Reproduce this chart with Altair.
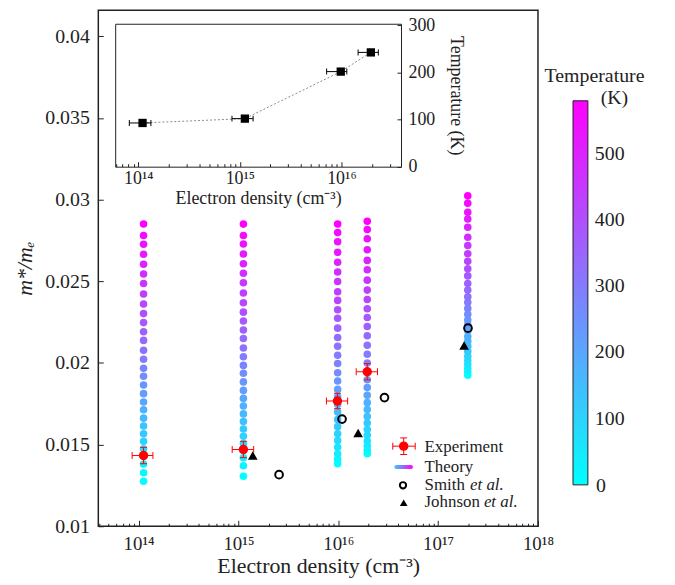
import altair as alt
import pandas as pd

# ---------------- data ----------------
TEMPERATURES = [0, 20, 40, 60, 80, 100, 120, 140, 160, 180, 200, 220, 240, 260, 280,
                300, 320, 340, 360, 380, 400, 420, 440, 460, 480, 500, 520, 540, 560, 580]
THEORY_DENSITY = [1.12e14, 1.12e15, 0.985e16, 1.95e16, 1.98e17]
THEORY_M_1 = [0.01275, 0.01328, 0.01381, 0.01427, 0.01474, 0.01520, 0.01567, 0.01614, 0.01662, 0.01713,
              0.01761, 0.01812, 0.01865, 0.01919, 0.01968, 0.02023, 0.02077, 0.02138, 0.02191, 0.02247,
              0.02302, 0.02361, 0.02422, 0.02486, 0.02545, 0.02604, 0.02665, 0.02727, 0.02780, 0.02851]
THEORY_M_2 = [0.01306, 0.01370, 0.01420, 0.01463, 0.01507, 0.01551, 0.01596, 0.01641, 0.01688, 0.01736,
              0.01783, 0.01832, 0.01884, 0.01937, 0.01985, 0.02038, 0.02091, 0.02150, 0.02202, 0.02257,
              0.02311, 0.02369, 0.02428, 0.02491, 0.02549, 0.02607, 0.02667, 0.02728, 0.02780, 0.02850]
THEORY_M_3 = [0.01383, 0.01411, 0.01444, 0.01484, 0.01525, 0.01567, 0.01610, 0.01654, 0.01699, 0.01745,
              0.01792, 0.01838, 0.01889, 0.01940, 0.01996, 0.02047, 0.02102, 0.02156, 0.02213, 0.02274,
              0.02326, 0.02383, 0.02436, 0.02499, 0.02557, 0.02616, 0.02677, 0.02742, 0.02798, 0.02851]
THEORY_M_4 = [0.01444, 0.01466, 0.01492, 0.01522, 0.01557, 0.01593, 0.01632, 0.01672, 0.01715, 0.01757,
              0.01802, 0.01849, 0.01897, 0.01948, 0.02000, 0.02053, 0.02108, 0.02167, 0.02223, 0.02278,
              0.02332, 0.02389, 0.02446, 0.02507, 0.02571, 0.02628, 0.02693, 0.02760, 0.02817, 0.02867]
THEORY_M_5 = [0.01925, 0.01946, 0.01966, 0.01990, 0.02015, 0.02041, 0.02071, 0.02102, 0.02132, 0.02162,
              0.02197, 0.02233, 0.02263, 0.02298, 0.02334, 0.02371, 0.02405, 0.02446, 0.02486, 0.02533,
              0.02577, 0.02622, 0.02669, 0.02719, 0.02770, 0.02831, 0.02881, 0.02922, 0.02978, 0.03023]
THEORY_COLUMNS = [THEORY_M_1, THEORY_M_2, THEORY_M_3, THEORY_M_4, THEORY_M_5]

EXP_N = [1.12e14, 1.12e15, 0.98e16, 1.95e16]
EXP_N_LO = [0.86e14, 0.865e15, 0.76e16, 1.51e16]
EXP_N_HI = [1.39e14, 1.42e15, 1.24e16, 2.47e16]
EXP_M = [0.01433, 0.01470, 0.01767, 0.01946]
EXP_M_ERR = [0.0005, 0.0005, 0.00047, 0.0005]

SMITH_N = [2.55e15, 1.09e16, 2.9e16, 1.99e17]
SMITH_M = [0.01316, 0.01656, 0.01788, 0.02213]
JOHNSON_N = [1.39e15, 1.58e16, 1.82e17]
JOHNSON_M = [0.01433, 0.01571, 0.02107]

INSET_N = [1.1e14, 1.12e15, 0.985e16, 1.95e16]
INSET_N_LO = [0.815e14, 0.836e15, 0.715e16, 1.46e16]
INSET_N_HI = [1.33e14, 1.35e15, 1.13e16, 2.31e16]
INSET_T = [92.7, 101.9, 201.6, 242.3]

X_MAJOR = [1e14, 1e15, 1e16, 1e17, 1e18]
X_MINOR = [k * 10.0 ** d for d in range(13, 18) for k in range(2, 10) if 4e13 <= k * 10.0 ** d < 1e18]
Y_TICKS = [0.01, 0.015, 0.02, 0.025, 0.03, 0.035, 0.04]
IX_MAJOR = [1e14, 1e15, 1e16]
IX_MINOR = [k * 10.0 ** d for d in range(13, 17) for k in range(2, 10) if 5.9e13 <= k * 10.0 ** d < 3.8e16]
IY_TICKS = [0, 100, 200, 300]
CBAR_TICKS = [100, 200, 300, 400, 500]

# ---------------- tables ----------------
theory_rows = []
for n, col in zip(THEORY_DENSITY, THEORY_COLUMNS):
    for t, m in zip(TEMPERATURES, col):
        theory_rows.append({"n": n, "m": m, "T": t})
theory_df = pd.DataFrame(theory_rows)

exp_df = pd.DataFrame({"n": EXP_N, "lo": EXP_N_LO, "hi": EXP_N_HI, "m": EXP_M,
                       "mlo": [m - e for m, e in zip(EXP_M, EXP_M_ERR)],
                       "mhi": [m + e for m, e in zip(EXP_M, EXP_M_ERR)]})
exp_xcaps = pd.DataFrame({"n": EXP_N_LO + EXP_N_HI, "m": EXP_M + EXP_M})
exp_ycaps = pd.DataFrame({"n": EXP_N + EXP_N, "m": list(exp_df["mlo"]) + list(exp_df["mhi"])})
smith_df = pd.DataFrame({"n": SMITH_N, "m": SMITH_M})
johnson_df = pd.DataFrame({"n": JOHNSON_N, "m": JOHNSON_M})
inset_df = pd.DataFrame({"n": INSET_N, "lo": INSET_N_LO, "hi": INSET_N_HI, "T": INSET_T})
inset_caps = pd.DataFrame({"n": INSET_N_LO + INSET_N_HI, "T": INSET_T + INSET_T})
one = pd.DataFrame({"a": [0]})

# ---------------- geometry / style ----------------
W, H = 443, 520
IL, IR, IT, IB = 17, 305, 13.7, 157.7
FONT = "Liberation Serif"
INK = "#222222"

XS = alt.Scale(type="log", domain=[10 ** 13.596, 1e18], nice=False)
YS = alt.Scale(domain=[0.01, 0.0416], nice=False, zero=False)
IXS = alt.Scale(type="log", domain=[10 ** 13.772, 10 ** 16.587], range=[IL, IR], nice=False)
IYS = alt.Scale(domain=[0, 303], range=[IB, IT], nice=False, zero=False)

SUP = ("'10' + replace(replace(replace(replace(replace(replace("
       "format(log(datum.value)/LN10, '.0f'), '1', '¹'), '4', '⁴'), '5', '⁵'), '6', '⁶'), '7', '⁷'), '8', '⁸')")


def ax(**kw):
    base = dict(grid=False, labelFont=FONT, titleFont=FONT, labelColor=INK, titleColor=INK,
                tickColor=INK, domainColor=INK, titleFontWeight="normal")
    base.update(kw)
    return alt.Axis(**base)


X_LAB = ax(orient="bottom", values=X_MAJOR, labelExpr=SUP, ticks=False, domain=False, labelFontSize=19,
           labelPadding=8, labelOverlap=False, labelFlush=False,
           title="Electron density (cm⁻³)", titleFontSize=22, titlePadding=3)
X_MAJ = ax(orient="top", offset=-H, values=X_MAJOR, labels=False, tickSize=6, domain=False, title=None)
X_MIN = ax(orient="top", offset=-H, values=X_MINOR, labels=False, tickSize=3, domain=False, title=None)
Y_LAB = ax(orient="left", values=Y_TICKS, format="~g", ticks=False, domain=False, labelFontSize=20,
           labelPadding=9, labelOverlap=False, labelFlush=False,
           title="m*/mₑ", titleFontSize=22, titleFontStyle="italic", titlePadding=8)
Y_TCK = ax(orient="right", offset=-W, values=Y_TICKS, labels=False, tickSize=5, domain=False, title=None)

IX_LAB = ax(orient="bottom", offset=-(H - IB), values=IX_MAJOR, labelExpr=SUP, ticks=False, domain=True,
            labelFontSize=18, labelPadding=3, labelFlush=False, labelOverlap=False,
            title="Electron density (cm⁻³)", titleFontSize=18, titlePadding=2)
IX_MAJ = ax(orient="top", offset=-IB, values=IX_MAJOR, labels=False, tickSize=5, domain=False, title=None)
IX_MIN = ax(orient="top", offset=-IB, values=IX_MINOR, labels=False, tickSize=3, domain=False, title=None)
IX_TOP = ax(orient="top", offset=-IT, labels=False, ticks=False, domain=True, title=None)
IY_LAB = ax(orient="right", offset=-(W - IR), values=IY_TICKS, ticks=False, domain=True, labelFontSize=18,
            labelPadding=7, labelFlush=False, labelOverlap=False,
            title="Temperature (K)", titleFontSize=18, titlePadding=12, titleAngle=90)
IY_TCK = ax(orient="left", offset=-IR, values=IY_TICKS, labels=False, tickSize=4, domain=False, title=None)
IY_LEFT = ax(orient="left", offset=-IL, labels=False, ticks=False, domain=True, title=None)


def mx(field, axis=None):
    return alt.X(field, type="quantitative", scale=XS, axis=axis)


def my(field, axis=None):
    return alt.Y(field, type="quantitative", scale=YS, axis=axis)


def ix(field, axis=None):
    return alt.X(field, type="quantitative", scale=IXS, axis=axis)


def iy(field, axis=None):
    return alt.Y(field, type="quantitative", scale=IYS, axis=axis)


RED = "#ff0000"

# ---------------- main layers ----------------
theory = alt.Chart(theory_df).mark_circle(size=58, opacity=1).encode(
    x=mx("n", X_LAB), y=my("m", Y_LAB),
    color=alt.Color("T:Q", scale=alt.Scale(domain=[0, 580], range=["#00ffff", "#ff00ff"], interpolate="rgb"),
                    legend=alt.Legend(title=None, orient="none", legendX=478.3, legendY=91.3,
                                      direction="vertical", gradientLength=387, gradientThickness=15,
                                      gradientStrokeColor=INK, gradientStrokeWidth=1, values=CBAR_TICKS,
                                      labelFont=FONT, labelFontSize=20, labelColor=INK, labelOffset=7,
                                      labelOverlap=False, padding=0)))

smith = alt.Chart(smith_df).mark_point(shape="circle", filled=False, size=60, strokeWidth=2,
                                       color="black", opacity=1).encode(x=mx("n", X_MAJ), y=my("m", Y_TCK))
johnson = alt.Chart(johnson_df).mark_point(shape="triangle-up", filled=True, size=95, color="black",
                                           opacity=1).encode(x=mx("n", X_MIN), y=my("m"))

exp_xbar = alt.Chart(exp_df).mark_rule(color=RED, strokeWidth=1).encode(x=mx("lo"), x2="hi", y=my("m"))
exp_ybar = alt.Chart(exp_df).mark_rule(color=RED, strokeWidth=1).encode(x=mx("n"), y=my("mlo"), y2="mhi")
exp_xcap = alt.Chart(exp_xcaps).mark_tick(orient="vertical", size=7, thickness=1, color=RED, opacity=1).encode(
    x=mx("n"), y=my("m"))
exp_ycap = alt.Chart(exp_ycaps).mark_tick(orient="horizontal", size=7, thickness=1, color=RED, opacity=1).encode(
    x=mx("n"), y=my("m"))
exp_pts = alt.Chart(exp_df).mark_circle(size=90, color=RED, opacity=1).encode(x=mx("n"), y=my("m"))

# ---------------- inset layers ----------------
inset_line = alt.Chart(inset_df).mark_line(color="#888888", strokeWidth=1, strokeDash=[2, 2]).encode(
    x=ix("n", IX_LAB), y=iy("T", IY_LAB))
inset_bar = alt.Chart(inset_df).mark_rule(color="black", strokeWidth=1).encode(
    x=ix("lo", IX_MIN), x2="hi", y=iy("T", IY_LEFT))
inset_cap = alt.Chart(inset_caps).mark_tick(orient="vertical", size=6, thickness=1, color="black",
                                            opacity=1).encode(x=ix("n", IX_TOP), y=iy("T"))
inset_pts = alt.Chart(inset_df).mark_square(size=70, color="black", opacity=1).encode(
    x=ix("n", IX_MAJ), y=iy("T", IY_TCK))

# ---------------- legend (inside plot) ----------------
def txt(s, x, y, size=17, style="normal", align="left"):
    return alt.Chart(one).mark_text(align=align, baseline="alphabetic", font=FONT, fontSize=size,
                                    fontStyle=style, color=INK).encode(
        x=alt.value(x), y=alt.value(y), text=alt.value(s))


leg = [
    alt.Chart(one).mark_rule(color=RED, strokeWidth=1).encode(x=alt.value(296.7), x2=alt.value(319.3), y=alt.value(439.3)),
    alt.Chart(one).mark_rule(color=RED, strokeWidth=1).encode(x=alt.value(307.7), y=alt.value(431), y2=alt.value(447.7)),
    alt.Chart(one).mark_rule(color=RED, strokeWidth=1).encode(x=alt.value(296.7), y=alt.value(435.8), y2=alt.value(442.8)),
    alt.Chart(one).mark_rule(color=RED, strokeWidth=1).encode(x=alt.value(319.3), y=alt.value(435.8), y2=alt.value(442.8)),
    alt.Chart(one).mark_rule(color=RED, strokeWidth=1).encode(x=alt.value(304.2), x2=alt.value(311.2), y=alt.value(431)),
    alt.Chart(one).mark_rule(color=RED, strokeWidth=1).encode(x=alt.value(304.2), x2=alt.value(311.2), y=alt.value(447.7)),
    alt.Chart(one).mark_circle(size=90, color=RED, opacity=1).encode(x=alt.value(307.7), y=alt.value(439.3)),
    alt.Chart(one).mark_rect(cornerRadius=2, fill=alt.LinearGradient(
        gradient="linear", x1=0, x2=1, y1=0, y2=0,
        stops=[alt.GradientStop(color="#33ccff", offset=0), alt.GradientStop(color="#ff00ff", offset=1)])).encode(
        x=alt.value(298.3), x2=alt.value(317), y=alt.value(458.3), y2=alt.value(462.3)),
    alt.Chart(one).mark_point(shape="circle", filled=False, size=40, strokeWidth=2, color="black",
                              opacity=1).encode(x=alt.value(307), y=alt.value(478.7)),
    alt.Chart(one).mark_point(shape="triangle-up", filled=True, size=60, color="black",
                              opacity=1).encode(x=alt.value(307.7), y=alt.value(496.3)),
    txt("Experiment", 328.7, 445.3),
    txt("Theory", 328.7, 465.3),
    txt("Smith ", 328.7, 483),
    txt("et al.", 374.5, 483, style="italic"),
    txt("Johnson ", 328.7, 500.7),
    txt("et al.", 388.5, 500.7, style="italic"),
    txt("Temperature", 500, 72, size=20, align="center"),
    txt("(K)", 520, 95, size=20, align="center"),
    txt("0", 501.5, 485, size=20),
]

chart = alt.layer(
    theory, smith, johnson, exp_xbar, exp_ybar, exp_xcap, exp_ycap, exp_pts,
    inset_line, inset_bar, inset_cap, inset_pts, *leg
).resolve_scale(x="independent", y="independent").properties(
    width=W, height=H,
    autosize=alt.AutoSizeParams(type="none"),
    padding={"left": 91, "top": 0, "right": 130, "bottom": 57},
    background="white",
).configure_view(stroke=INK, strokeWidth=1.5).configure_axis(
    labelFont=FONT, titleFont=FONT
).configure_legend(labelFont=FONT).configure_text(font=FONT)

chart.save("out.html", embed_options={"renderer": "svg", "actions": False})
